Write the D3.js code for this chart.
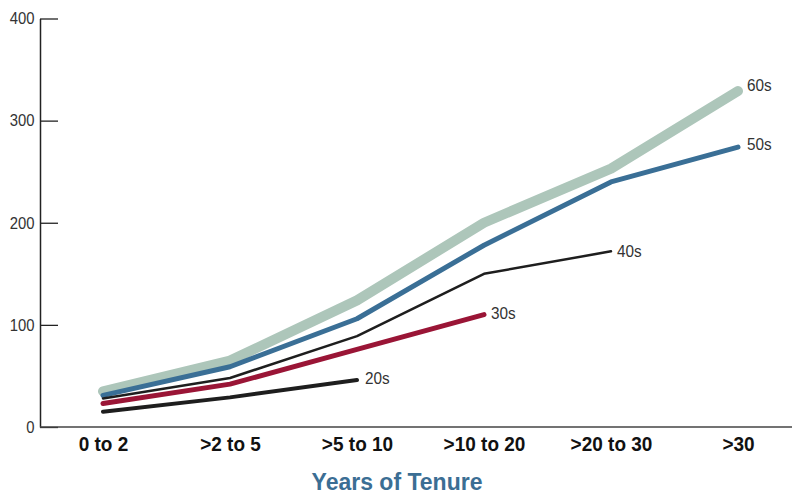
<!DOCTYPE html>
<html><head><meta charset="utf-8">
<script src="https://cdn.jsdelivr.net/npm/d3@7"></script>
<style>
body{margin:0;background:#fff;}
svg{display:block;font-family:"Liberation Sans",Arial,sans-serif;}
</style></head>
<body><svg id="c" width="792" height="496"></svg>
<script>
const categories = ["0 to 2", ">2 to 5", ">5 to 10", ">10 to 20", ">20 to 30", ">30"];
const yTicks = [0, 100, 200, 300, 400];
const seriesNames = ["60s", "50s", "40s", "30s", "20s"];
const s60 = [35, 65, 124, 200, 253, 329];
const s50 = [31, 59, 106, 178, 240, 274];
const s40 = [28, 48, 89, 150, 172];
const s30 = [23, 42, 76, 110];
const s20 = [15, 29, 46];
const xTitle = "Years of Tenure";

const svg = d3.select("#c");
const x = d3.scalePoint().domain(categories).range([103, 738]);
const y = d3.scaleLinear().domain([0, 400]).range([427, 18.5]);

// y axis
const ya = svg.append("g").attr("transform", "translate(40,0)")
  .call(d3.axisLeft(y).tickValues(yTicks).tickSizeInner(-18).tickSizeOuter(0).tickPadding(6));
ya.select(".domain").attr("stroke", "#222").attr("stroke-width", 1.5);
ya.selectAll(".tick line").attr("stroke", "#222").attr("stroke-width", 1.3);
ya.selectAll(".tick text").attr("font-size", 16.5).attr("fill", "#333")
  .attr("font-family", "'Liberation Sans',Arial,sans-serif")
  .attr("transform", "scale(0.9,1)");

// x axis
const xa = svg.append("g").attr("transform", "translate(0,427)")
  .call(d3.axisBottom(x).tickSize(0).tickPadding(10));
xa.select(".domain").attr("d", "M40,0H792").attr("stroke", "#444").attr("stroke-width", 1.5);
xa.selectAll(".tick text").attr("font-size", 20).attr("font-weight", "bold").attr("fill", "#111")
  .attr("font-family", "'Liberation Sans',Arial,sans-serif")
  .attr("transform", "scale(0.95,1)");

const series = [
  {name: "60s", vals: s60, color: "#adc6ba", w: 10, dx: 9, dy: -6},
  {name: "50s", vals: s50, color: "#3a6f96", w: 5, dx: 9, dy: -3},
  {name: "40s", vals: s40, color: "#1e1e1e", w: 2.5, dx: 6, dy: 0},
  {name: "30s", vals: s30, color: "#9a1536", w: 5, dx: 7, dy: -2},
  {name: "20s", vals: s20, color: "#1e1e1e", w: 4, dx: 8, dy: -2}
];
const line = d3.line().x((d, i) => x(categories[i])).y(d => y(d));
svg.append("g").selectAll("path").data(series).join("path")
  .attr("d", d => line(d.vals))
  .attr("fill", "none").attr("stroke", d => d.color).attr("stroke-width", d => d.w)
  .attr("stroke-linecap", "round").attr("stroke-linejoin", "round");

svg.append("g").selectAll("text").data(series).join("text")
  .attr("transform", d => `translate(${x(categories[d.vals.length - 1]) + d.dx},${y(d.vals[d.vals.length - 1]) + d.dy}) scale(0.9,1)`)
  .attr("dy", "0.35em")
  .attr("font-size", 17).attr("fill", "#333")
  .text(d => d.name);

svg.append("text").attr("x", 397).attr("y", 490).attr("text-anchor", "middle")
  .attr("font-size", 23).attr("font-weight", "bold").attr("fill", "#3b6e94")
  .text(xTitle);
</script></body></html>
